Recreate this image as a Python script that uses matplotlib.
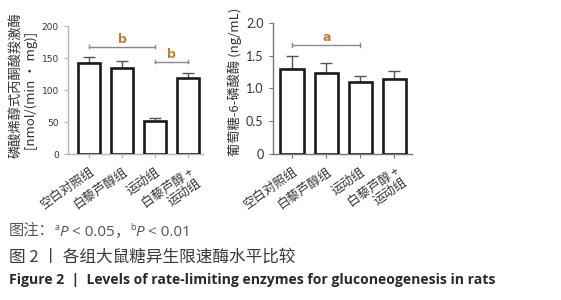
import matplotlib
matplotlib.use("Agg")
import matplotlib.pyplot as plt
import numpy as np

plt.rcParams['font.family'] = ['Noto Sans CJK SC', 'DejaVu Sans']

groups = ["空白对照组", "白藜芦醇组", "运动组", "白藜芦醇 +\n运动组"]
pepck_mean = [142, 134, 52, 119]
pepck_err = [9, 12, 5, 8]
g6p_mean = [1.30, 1.23, 1.10, 1.15]
g6p_err = [0.20, 0.15, 0.09, 0.11]

left_yticks = [0, 50, 100, 150, 200]
right_yticks = [0, 0.5, 1.0, 1.5, 2.0]
right_yticklabels = ["0", "0.5", "1.0", "1.5", "2.0"]

left_sig = [(0, 2, 168, "b"), (2, 3, 144, "b")]
right_sig = [(0, 2, 1.66, "a")]

fig = plt.figure(figsize=(5.61, 3.0), dpi=100)
W, H = 561, 300

def add_ax(x0, x1, ybot, ytop):
    return fig.add_axes([x0 / W, 1 - ybot / H, (x1 - x0) / W, (ybot - ytop) / H])

ax1 = add_ax(68, 203, 154.3, 26)
ax2 = add_ax(272.5, 411.7, 154, 22.7)

sig_color = "#c08030"
line_gray = "#8a8a8a"

def draw(ax, means, errs, yticks, yticklabels, ylim, xlim, width, sig, spine_col, tick_fs, tick_fam, lab_fs):
    x = np.arange(len(means))
    ax.bar(x, means, width=width, color="white", edgecolor="#1a1a1a", linewidth=1.9, zorder=3)
    ax.errorbar(x, means, yerr=[np.zeros(len(errs)), errs], fmt="none", ecolor="#555555",
                elinewidth=1.0, capsize=4, capthick=1.0, zorder=2)
    ax.set_ylim(*ylim)
    ax.set_xlim(*xlim)
    ax.set_yticks(yticks)
    ax.set_yticklabels(yticklabels, fontsize=tick_fs, color="#333333", family=tick_fam)
    ax.set_xticks(x)
    ax.set_xticklabels(groups, rotation=35, ha="right", rotation_mode="anchor",
                       fontsize=lab_fs, color="#333333", linespacing=1.0)
    for s in ["top", "right"]:
        ax.spines[s].set_visible(False)
    for s in ["left", "bottom"]:
        ax.spines[s].set_color(spine_col)
        ax.spines[s].set_linewidth(1.0)
    ax.tick_params(axis="both", colors=spine_col, length=3, width=0.8, labelcolor="#333333")
    ax.tick_params(axis="x", pad=5)
    ax.patch.set_alpha(0)
    span = ylim[1] - ylim[0]
    for a, b, y, lab in sig:
        ax.plot([a, b], [y, y], color=line_gray, lw=1.0, zorder=4)
        for xx in (a, b):
            ax.plot([xx, xx], [y - span * 0.012, y + span * 0.012], color=line_gray, lw=1.0, zorder=4)
        ax.text((a + b) / 2, y + span * 0.005, lab, ha="center", va="bottom", fontsize=9,
                color=sig_color, fontweight="bold", family="DejaVu Sans")

draw(ax1, pepck_mean, pepck_err, left_yticks, [str(v) for v in left_yticks], (0, 200),
     (-0.636, 3.45), 0.67, left_sig, "#b5b5b5", 6.5, "DejaVu Sans", 9)
draw(ax2, g6p_mean, g6p_err, right_yticks, right_yticklabels, (0, 2.0),
     (-0.58, 3.51), 0.69, right_sig, "#777777", 9, "Lato", 9)

fig.text(17 / W, 1 - 85 / H, "磷酸烯醇式丙酮酸羧激酶", rotation=90, ha="center", va="center",
         fontsize=9.5, color="#333333")
fig.text(31 / W, 1 - 91 / H, "[nmol/(min · mg)]", rotation=90, ha="center", va="center",
         fontsize=9.5, color="#333333")
fig.text(235 / W, 1 - 82 / H, "葡萄糖-6-磷酸酶 (ng/mL)", rotation=90, ha="center", va="center",
         fontsize=9.5, color="#333333")

# Caption line 1, built piece by piece along a common baseline
cap_col = "#555555"
renderer = fig.canvas.get_renderer()
x_px = 9.0
base_px = 236.0
pieces = [("图注：", dict(fontsize=11), 0),
          ("a", dict(fontsize=6.5, family=["Open Sans"]), 6),
          ("P", dict(fontsize=11, style="italic", family=["Open Sans"]), 0),
          (" < 0.05", dict(fontsize=11, family=["Open Sans"]), 0),
          ("，", dict(fontsize=11), 0),
          ("b", dict(fontsize=6.5, family=["Open Sans"]), 6),
          ("P", dict(fontsize=11, style="italic", family=["Open Sans"]), 0),
          (" < 0.01", dict(fontsize=11, family=["Open Sans"]), 0)]
for s, kw, up in pieces:
    t = fig.text(x_px / W, 1 - (base_px - up) / H, s, va="baseline", ha="left", color=cap_col, **kw)
    bb = t.get_window_extent(renderer)
    x_px += bb.width

fig.text(9 / W, 1 - 262 / H, "图 2 丨 各组大鼠糖异生限速酶水平比较", fontsize=12, color="#3a3a3a",
         va="baseline")
fig.text(9 / W, 1 - 284 / H, "Figure 2  |  Levels of rate-limiting enzymes for gluconeogenesis in rats",
         fontsize=10.1, color="#2a2a2a", va="baseline", fontweight="bold", family=["Open Sans"])

fig.savefig("out.png", dpi=100)
